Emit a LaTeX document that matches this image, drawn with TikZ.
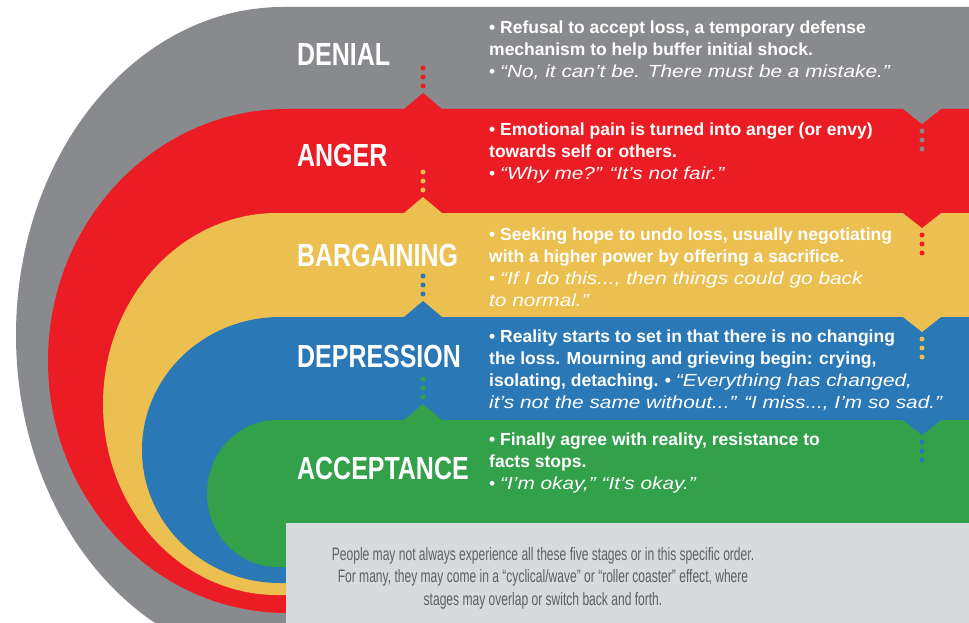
\documentclass[tikz,border=0pt]{standalone}
\usepackage{fontspec}
\newfontfamily\titlefont[FakeStretch=0.78]{Liberation Sans}
\newfontfamily\bodyfont[ItalicFeatures={FakeStretch=1.19}]{Liberation Sans}
\newfontfamily\notefont[FakeStretch=0.67]{Liberation Sans}

\definecolor{denial}{HTML}{898A8D}
\definecolor{anger}{HTML}{EC1C24}
\definecolor{bargain}{HTML}{ECC050}
\definecolor{depress}{HTML}{2A78B6}
\definecolor{accept}{HTML}{33A04A}
\definecolor{notebg}{HTML}{D9DADB}
\definecolor{notetext}{HTML}{5E5F62}

% multi-line nodes sit on the baseline of their last line
\tikzset{
  stage/.style={anchor=base west, inner sep=0, text=white,
    font=\titlefont\bfseries\fontsize{32}{32}\selectfont},
  info/.style={anchor=base west, inner sep=0, text=white, align=left,
    font=\bodyfont\fontsize{17.5}{22}\selectfont},
  note/.style={anchor=base, inner sep=0, text=notetext, align=center,
    font=\notefont\fontsize{18}{22.5}\selectfont}
}

\begin{document}
\begin{tikzpicture}[x=1pt,y=-1pt]
    \useasboundingbox (0,0) rectangle (969,623);
    \clip (0,0) rectangle (969,623);
    % the five bands, outermost first
    \fill[denial] (969,7) -- (283,7) arc[start angle=-90, end angle=-270, x radius=267, y radius=328] -- (969,663) -- cycle;
    \fill[anger] (969,109) -- (287,109) arc[start angle=-90, end angle=-270, x radius=239, y radius=252] -- (969,613) -- cycle;
    \fill[bargain] (969,213) -- (277,213) arc[start angle=-90, end angle=-270, x radius=174, y radius=191] -- (969,595) -- cycle;
    \fill[depress] (969,317) -- (280,317) arc[start angle=-90, end angle=-270, x radius=138, y radius=133] -- (969,583) -- cycle;
    \fill[accept] (969,420) -- (277,420) arc[start angle=-90, end angle=-270, x radius=70, y radius=73.5] -- (969,567) -- cycle;
    % notches up into the band above, dots trailing upwards
    \foreach \t/\c in {109/anger,213/bargain,317/depress,420/accept}{
        \fill[\c] (404,\t+1) -- (404,\t) -- (423,\t-16) -- (442,\t) -- (442,\t+1) -- cycle;
        \foreach \d in {23,32,41}
            \fill[\c] (423,\t-\d) circle (2.5);
    }
    % notches down into the band below, dots trailing downwards
    \foreach \t/\c in {109/denial,213/anger,317/bargain,420/depress}{
        \fill[\c] (903,\t-1) -- (903,\t) -- (922,\t+15) -- (941,\t) -- (941,\t-1) -- cycle;
        \foreach \d in {22,31,40}
            \fill[\c] (922,\t+\d) circle (2.5);
    }
    \fill[notebg] (286,523) rectangle (969,623);

    \node[stage] (denialT) at (297,66) {DENIAL};
    \node[stage] (angerT) at (297,167) {ANGER};
    \node[stage] (bargainT) at (297,266) {BARGAINING};
    \node[stage] (depressT) at (297,367) {DEPRESSION};
    \node[stage] (acceptT) at (297,479) {ACCEPTANCE};

    \node[info] (denialI) at (489,78) {\bfseries • Refusal to accept loss, a temporary defense\\
        \bfseries mechanism to help buffer initial shock.\\
        \mdseries • \itshape “No, it can’t be. There must be a mistake.”};
    \node[info] (angerI) at (489,179) {\bfseries • Emotional pain is turned into anger (or envy)\\
        \bfseries towards self or others.\\
        \mdseries • \itshape “Why me?” “It’s not fair.”};
    \node[info] (bargainI) at (489,306) {\bfseries • Seeking hope to undo loss, usually negotiating\\
        \bfseries with a higher power by offering a sacrifice.\\
        \mdseries • \itshape “If I do this..., then things could go back\\
        \mdseries\itshape to normal.”};
    \node[info] (depressI) at (489,408) {\bfseries • Reality starts to set in that there is no changing\\
        \bfseries the loss. Mourning and grieving begin: crying,\\
        \bfseries isolating, detaching. • \mdseries\itshape “Everything has changed,\\
        \mdseries\itshape it’s not the same without...” “I miss..., I’m so sad.”};
    \node[info] (acceptI) at (489,489) {\bfseries • Finally agree with reality, resistance to\\
        \bfseries facts stops.\\
        \mdseries • \itshape “I’m okay,” “It’s okay.”};

    \node[note] (noteT) at (543,605) {People may not always experience all these five stages or in this specific order.\\
        For many, they may come in a “cyclical/wave” or “roller coaster” effect, where\\
        stages may overlap or switch back and forth.};
\end{tikzpicture}
\end{document}
